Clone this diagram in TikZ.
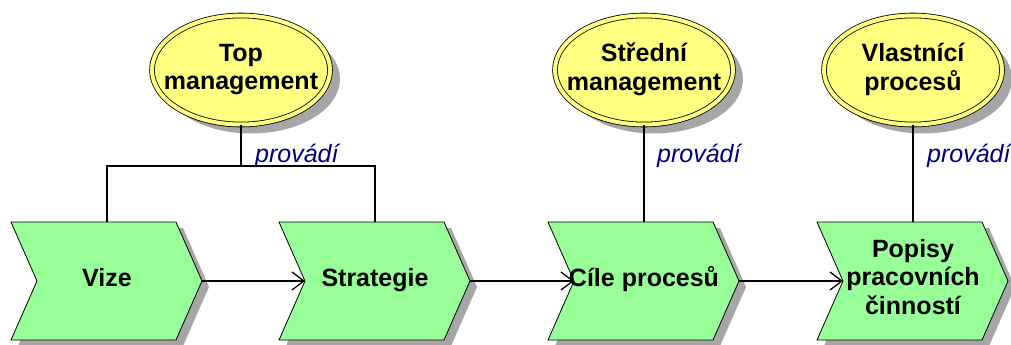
\documentclass[tikz,border=0pt]{standalone}
\usepackage{fontspec}
\setmainfont{Liberation Sans}
\usetikzlibrary{shapes.geometric,arrows.meta,shadows}

\definecolor{orgyellow}{RGB}{255,255,128}
\definecolor{fngreen}{RGB}{152,255,152}
\definecolor{shadowgray}{RGB}{166,166,166}
\definecolor{labelblue}{RGB}{0,0,128}

\tikzset{
  fnshape/.style={draw=black, line width=0.8pt, fill=fngreen,
    drop shadow={shadow xshift=7pt, shadow yshift=-6pt, fill=shadowgray, opacity=1}},
  boldtext/.style={font=\fontsize{25}{28.5}\selectfont\bfseries, align=center,
    inner sep=0pt, execute at begin node=\strut, execute at end node=\strut},
  orgunit/.style={ellipse, draw=black, line width=0.8pt, double=orgyellow,
    double distance=4pt, fill=orgyellow, minimum width=178pt, minimum height=109pt,
    inner sep=0pt,
    drop shadow={shadow xshift=10pt, shadow yshift=-9pt, fill=shadowgray, opacity=1}},
  link/.style={draw=black, line width=1.3pt},
  flow/.style={link, -{Straight Barb[length=12pt,width=18pt,line width=1.3pt]}},
  relabel/.style={font=\fontsize{25}{28}\selectfont\itshape, text=labelblue,
    anchor=base west, inner sep=0pt},
}

% process step (chevron): name, left x, text
\newcommand\fnstep[3]{%
  \path[fnshape, shift={(#2,222)}] (0,0) -- (165,0) -- (191,59) -- (165,118)
    -- (0,118) -- (26,59) -- cycle;
  \coordinate (#1-in) at (#2+26,281);
  \coordinate (#1-out) at (#2+191,281);
  \coordinate (#1-top) at (#2+96,222);
  \node[boldtext] (#1) at (#2+96,281) {#3};
}

% organisational unit (double ellipse): name, centre x, text
\newcommand\orgnode[3]{%
  \node[orgunit] (#1) at (#2,70) {};
  \node[boldtext] (#1-label) at (#2,71) {#3};
}

\begin{document}
\begin{tikzpicture}[x=1pt, y=-1pt]
  \useasboundingbox (0,0) rectangle (1011,345);

  % process chain
  \fnstep{vize}{11}{Vize}
  \fnstep{strategie}{279}{Strategie}
  \fnstep{cile}{548}{Cíle procesů}
  \fnstep{popisy}{817}{Popisy\\pracovních\\činností}

  \draw[flow] (vize-out) -- (strategie-in);
  \draw[flow] (strategie-out) -- (cile-in);
  \draw[flow] (cile-out) -- (popisy-in);

  % organisational units
  \orgnode{top}{241}{Top\\management}
  \orgnode{stredni}{644}{Střední\\management}
  \orgnode{vlastnici}{913}{Vlastnící\\procesů}

  % responsibility links
  \coordinate (topj) at (241,166);
  \draw[link] (top.south) -- (topj);
  \draw[link] (vize-top) |- (topj) -| (strategie-top);
  \draw[link] (stredni.south) -- (cile-top);
  \draw[link] (vlastnici.south) -- (popisy-top);

  \node[relabel] (lbltop) at (255,162) {provádí};
  \node[relabel] (lblstredni) at (657,162) {provádí};
  \node[relabel] (lblvlastnici) at (927,162) {provádí};
\end{tikzpicture}
\end{document}
